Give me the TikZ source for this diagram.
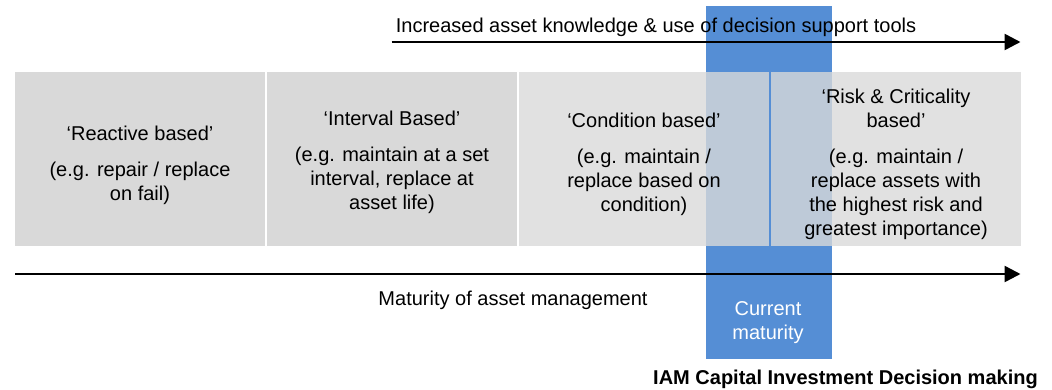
\documentclass[tikz,border=0pt]{standalone}
\usepackage{fontspec}
\setmainfont{Liberation Sans}
\usetikzlibrary{arrows.meta}
\definecolor{curblue}{HTML}{558ED5}
\definecolor{boxgray}{HTML}{D9D9D9}
\begin{document}
\begin{tikzpicture}[x=1pt,y=-1pt,
  stage/.style={fill=boxgray, draw=none, minimum width=250pt, minimum height=173.5pt, inner sep=0pt, outer sep=0pt, anchor=north west},
  seethru/.style={fill opacity=0.8},
  lbl/.style={font=\fontsize{20}{24}\selectfont, align=center, inner sep=0pt, anchor=base},
  axis/.style={line width=2.5pt, -{Triangle[length=16pt,width=16pt]}}]
\useasboundingbox (0,0) rectangle (1052,389);
% current maturity band
\node[fill=curblue, draw=none, inner sep=0pt, outer sep=0pt, anchor=north west,
      minimum width=126pt, minimum height=352.5pt] (cur) at (706,6) {};
% stages
\node[stage] (s1) at (15,72) {};
\node[stage] (s2) at (267,72) {};
\node[stage, seethru] (s3) at (519,72) {};
\node[stage, seethru] (s4) at (771,72) {};
% axes
\coordinate (ta) at (391.5,42);
\coordinate (tb) at (1020.5,42);
\coordinate (ba) at (15,274);
\coordinate (bb) at (1020.5,274);
\draw[axis] (ta) -- (tb);
\draw[axis] (ba) -- (bb);
% labels (base anchor = baseline of the last line)
\node[lbl] (ttop) at (656,32) {Increased asset knowledge \& use of decision support tools};
\node[lbl] (tbot) at (513,305) {Maturity of asset management};
\node[lbl] (t1) at (140,200) {‘Reactive based’\\[12pt](e.g. repair / replace\\on fail)};
\node[lbl] (t2) at (392,209) {‘Interval Based’\\[12pt](e.g. maintain at a set\\interval, replace at\\asset life)};
\node[lbl] (t3) at (644,211.5) {‘Condition based’\\[12pt](e.g. maintain /\\replace based on\\condition)};
\node[lbl] (t4) at (896,235) {‘Risk \& Criticality\\based’\\[12pt](e.g. maintain /\\replace assets with\\the highest risk and\\greatest importance)};
\node[lbl, text=white] (tcur) at (768,339) {Current\\maturity};
\node[lbl, font=\fontsize{20}{24}\selectfont\bfseries] (tiam) at (845.5,384.5) {IAM Capital Investment Decision making};
\end{tikzpicture}
\end{document}
